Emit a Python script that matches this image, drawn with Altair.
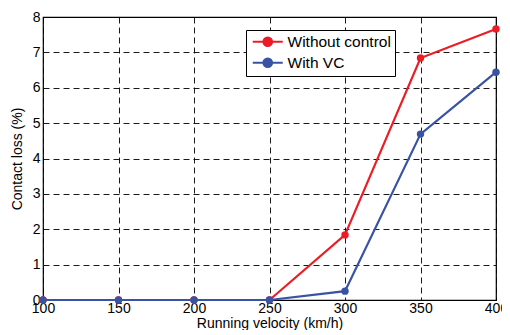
import altair as alt
import pandas as pd

velocity = [100, 150, 200, 250, 300, 350, 400]
without_control = [0, 0, 0, 0, 1.84, 6.84, 7.66]
with_vc = [0, 0, 0, 0, 0.25, 4.69, 6.44]
series_names = ["Without control", "With VC"]
colors = ["#ed1c24", "#3953a4"]

rows = []
for v, a, b in zip(velocity, without_control, with_vc):
    rows.append({"v": v, "loss": a, "series": series_names[0]})
    rows.append({"v": v, "loss": b, "series": series_names[1]})
df = pd.DataFrame(rows)

font = "Liberation Sans"
sym = "M-3,0H3M-0.85,0A0.85,0.85,0,1,1,0.85,0A0.85,0.85,0,1,1,-0.85,0Z"

x = alt.X("v:Q", scale=alt.Scale(domain=[100, 400], nice=False),
          axis=alt.Axis(values=velocity, title="Running velocity (km/h)"))
y = alt.Y("loss:Q", scale=alt.Scale(domain=[0, 8], nice=False),
          axis=alt.Axis(values=list(range(0, 9)), title="Contact loss (%)"))
color_scale = alt.Scale(domain=series_names, range=colors)
legend = alt.Legend(title=None, orient="none", legendX=203, legendY=13,
                    symbolType=sym, symbolSize=100, symbolStrokeWidth=2.2,
                    symbolOffset=10,
                    labelFontSize=15.5, labelFont=font, labelColor="black",
                    strokeColor="black", fillColor="white",
                    padding=4, rowPadding=3, labelOffset=12)
color = alt.Color("series:N", scale=color_scale, sort=series_names, legend=legend)

lines = alt.Chart(df).mark_line(strokeWidth=2.2).encode(
    x=x, y=y, color=color,
)
points = alt.Chart(df).mark_point(filled=True, size=55, opacity=1).encode(
    x=x, y=y, color=color,
)

chart = (lines + points).properties(
    width=453, height=283,
    autosize=alt.AutoSizeParams(type="none"),
    padding={"left": 35, "top": 9, "right": 6, "bottom": 30},
).configure_view(
    stroke="black", strokeWidth=1.2
).configure_axis(
    grid=True, gridColor="black", gridDash=[6, 4], gridWidth=0.9, gridOpacity=1,
    domain=False, ticks=False, labelFlush=False,
    labelFont=font, labelFontSize=14, labelColor="black",
    titleFont=font, titleFontSize=14, titleColor="black", titleFontWeight="normal",
).configure_axisY(
    labelPadding=3, titlePadding=8
).configure_axisX(
    labelPadding=1, titlePadding=1
)

chart.save("out.html", embed_options={"renderer": "svg", "actions": False})
